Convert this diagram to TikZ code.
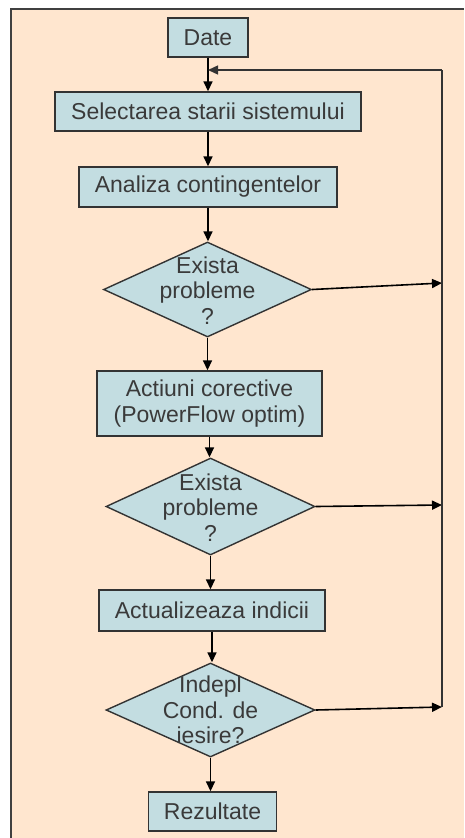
\documentclass[tikz,border=0pt]{standalone}
\usepackage{fontspec}
\setmainfont{Liberation Sans}
\usetikzlibrary{arrows.meta,shapes.geometric}
\definecolor{peach}{HTML}{FFE6CF}
\definecolor{boxfill}{HTML}{C3DDE1}
\definecolor{boxline}{HTML}{333333}
\definecolor{txtcol}{HTML}{3A3A3A}
\tikzset{
  box/.style={draw=boxline, fill=boxfill, line width=1.4pt, inner sep=0pt,
    align=center, text=txtcol, font=\fontsize{23}{26}\selectfont},
  dec/.style={draw=boxline, fill=boxfill, line width=1.4pt, shape=diamond, inner sep=0pt},
  dtxt/.style={align=center, text=txtcol, inner sep=0pt, font=\fontsize{23}{25.5}\selectfont},
  arr/.style={draw=black, line width=1.6pt, -{Triangle[length=10pt,width=9pt]}},
  fb/.style={draw=black!80, line width=1.3pt}
}
\begin{document}
\begin{tikzpicture}[x=1pt,y=-1pt]
\useasboundingbox (0,0) rectangle (464,838);
\fill[peach] (10,8) rectangle (464,838);
\draw[black!75, line width=2pt] (11,838) -- (11,8.5) -- (464,8.5);

\node[box, minimum width=80pt, minimum height=39pt] (date) at (208,37.5) {Date};
\node[box, minimum width=306pt, minimum height=39pt] (sel) at (208,111.5) {Selectarea starii sistemului};
\node[box, minimum width=258pt, minimum height=40pt] (ana) at (208,187) {Analiza contingentelor};
\node[dec, minimum width=208pt, minimum height=95pt] (d1) at (207.5,289.5) {};
\node[dtxt] (t1) at ([yshift=-1pt]d1.center) {Exista\\probleme\\?};
\node[box, minimum width=225pt, minimum height=65pt] (act) at (209.5,403.5) {Actiuni corective\\(PowerFlow optim)};
\node[dec, minimum width=209pt, minimum height=97pt] (d2) at (210.5,506.5) {};
\node[dtxt] (t2) at ([yshift=-1pt]d2.center) {Exista\\probleme\\?};
\node[box, minimum width=226pt, minimum height=41pt] (upd) at (212,610.5) {Actualizeaza indicii};
\node[dec, minimum width=209pt, minimum height=94pt] (d3) at (210.5,710) {};
\node[dtxt] (t3) at (d3.center) {Indepl\\Cond. de\\iesire?};
\node[box, minimum width=128pt, minimum height=39pt] (rez) at (212.5,811.5) {Rezultate};

\coordinate (merge) at (208,70);
\coordinate (rtop) at (442,70);
\coordinate (r1) at (442,283);
\coordinate (r2) at (442,505);
\coordinate (r3) at (442,707);

\draw[arr] (date.south) -- (sel.north);
\draw[arr] (sel.south) -- (sel.south |- ana.north);
\draw[arr] (ana.south) -- (ana.south |- d1.north);
\draw[arr] (d1.south) -- (d1.south |- act.north);
\draw[arr] (act.south) -- (act.south |- d2.north);
\draw[arr] (d2.south) -- (d2.south |- upd.north);
\draw[arr] (upd.south) -- (upd.south |- d3.north);
\draw[arr] (d3.south) -- (d3.south |- rez.north);

\draw[arr] (d1.east) -- (r1);
\draw[arr] (d2.east) -- (r2);
\draw[arr] (d3.east) -- (r3);
\draw[fb] (r3) -- (rtop);
\draw[fb, -{Triangle[length=10pt,width=9pt]}] (rtop) -- (merge);
\end{tikzpicture}
\end{document}
